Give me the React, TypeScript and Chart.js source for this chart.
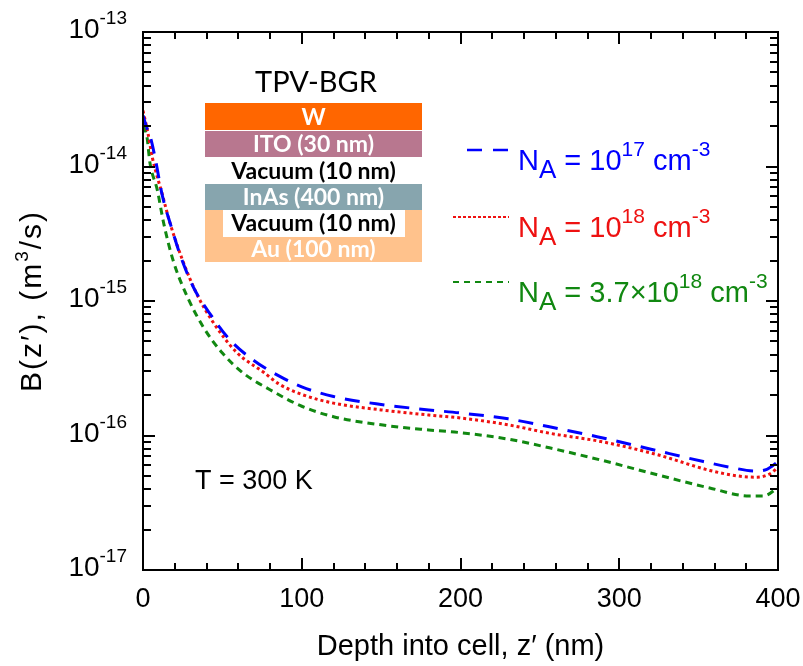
import React, { useEffect, useRef } from "react";
import { Chart, registerables } from "chart.js";

Chart.register(...registerables);

const FONT = '"Liberation Sans", Arial, sans-serif';
const INSET_FONT = 'Lato, "Open Sans", sans-serif';

// ---- data ----
const xTickValues = [0, 100, 200, 300, 400];
const yDecades = [-13, -14, -15, -16, -17];

const depthA17 = [0, 2, 5, 8, 12, 18, 24, 32, 42, 55, 70, 85, 100, 120, 150, 180, 200, 230, 256, 286, 320, 353, 370, 385, 393, 400];
const bA17 = [2.4e-14, 2.0e-14, 1.6e-14, 1.1e-14, 6.2e-15, 3.5e-15, 2.1e-15, 1.25e-15, 8.1e-16, 5.1e-16, 3.6e-16, 2.8e-16, 2.3e-16, 1.95e-16, 1.7e-16, 1.55e-16, 1.47e-16, 1.33e-16, 1.16e-16, 9.8e-17, 7.9e-17, 6.4e-17, 5.8e-17, 5.45e-17, 5.6e-17, 6.4e-17];

const depthA18 = [0, 3, 6, 12, 17, 25, 34, 44, 59, 76, 86, 100, 120, 150, 180, 200, 230, 256, 290, 324, 357, 375, 387, 395, 400];
const bA18 = [2.6e-14, 1.8e-14, 1.15e-14, 6.3e-15, 3.8e-15, 2.0e-15, 1.12e-15, 7.0e-16, 4.15e-16, 2.95e-16, 2.4e-16, 2.02e-16, 1.74e-16, 1.55e-16, 1.42e-16, 1.35e-16, 1.2e-16, 1.04e-16, 8.95e-17, 7.2e-17, 5.5e-17, 5.0e-17, 4.9e-17, 5.2e-17, 5.8e-17];

const depthA37 = [0, 2.5, 4.4, 9, 13, 19, 28, 38, 50, 63, 80, 100, 120, 150, 180, 200, 230, 256, 290, 324, 357, 382, 391, 400];
const bA37 = [2.0e-14, 1.66e-14, 1.06e-14, 6.7e-15, 3.8e-15, 2.0e-15, 1.07e-15, 6.4e-16, 4.1e-16, 2.92e-16, 2.19e-16, 1.65e-16, 1.38e-16, 1.2e-16, 1.1e-16, 1.05e-16, 9.4e-17, 8.1e-17, 6.5e-17, 5.1e-17, 4.07e-17, 3.55e-17, 3.55e-17, 4.1e-17];

const legendMantissa = ["10", "10", "3.7×10"];
const legendExponent = ["17", "18", "18"];
const seriesColors = ["#0000ff", "#ee1111", "#118811"];

const layerNames = ["W", "ITO (30 nm)", "Vacuum (10 nm)", "InAs (400 nm)", "Vacuum (10 nm)", "Au (100 nm)"];

type Part = { t: string; size: number; dy: number; weight?: string };

function partsWidth(ctx: CanvasRenderingContext2D, parts: Part[], family: string) {
  let w = 0;
  for (const p of parts) {
    ctx.font = `${p.weight || "normal"} ${p.size}px ${family}`;
    w += ctx.measureText(p.t).width;
  }
  return w;
}

function drawParts(ctx: CanvasRenderingContext2D, parts: Part[], x: number, y: number, color: string, family: string) {
  let cx = x;
  ctx.fillStyle = color;
  ctx.textAlign = "left";
  ctx.textBaseline = "alphabetic";
  for (const p of parts) {
    ctx.font = `${p.weight || "normal"} ${p.size}px ${family}`;
    ctx.fillText(p.t, cx, y + p.dy);
    cx += ctx.measureText(p.t).width;
  }
  return cx;
}

const decorPlugin = {
  id: "decor",
  afterDraw(chart: any) {
    const ctx: CanvasRenderingContext2D = chart.ctx;
    const xs = chart.scales.x;
    const ys = chart.scales.y;
    const left = xs.getPixelForValue(0);
    const right = xs.getPixelForValue(400);
    const top = ys.getPixelForValue(1e-13);
    const bottom = ys.getPixelForValue(1e-17);
    ctx.save();
    // frame
    ctx.strokeStyle = "#000";
    ctx.lineWidth = 2;
    ctx.setLineDash([]);
    ctx.strokeRect(left, top, right - left, bottom - top);
    // x ticks
    for (let z = 0; z <= 400; z += 20) {
      const px = Math.round(xs.getPixelForValue(z));
      const len = z % 100 === 0 ? 12 : 7;
      ctx.beginPath();
      ctx.moveTo(px, bottom);
      ctx.lineTo(px, bottom - len);
      ctx.moveTo(px, top);
      ctx.lineTo(px, top + len);
      ctx.stroke();
    }
    // y ticks
    for (let k = -17; k <= -14; k++) {
      for (let m = 1; m <= 9; m++) {
        const v = m * Math.pow(10, k);
        const py = Math.round(ys.getPixelForValue(v));
        const len = m === 1 ? 12 : 8;
        ctx.beginPath();
        ctx.moveTo(left, py);
        ctx.lineTo(left + len, py);
        ctx.moveTo(right, py);
        ctx.lineTo(right - len, py);
        ctx.stroke();
      }
    }
    // x tick labels
    ctx.fillStyle = "#000";
    ctx.font = `27px ${FONT}`;
    ctx.textAlign = "center";
    ctx.textBaseline = "alphabetic";
    for (const v of xTickValues) {
      ctx.fillText(String(v), xs.getPixelForValue(v), bottom + 37);
    }
    // y tick labels
    for (const d of yDecades) {
      const py = ys.getPixelForValue(Math.pow(10, d));
      const parts: Part[] = [
        { t: "10", size: 28, dy: 0 },
        { t: String(d), size: 19, dy: -14 },
      ];
      const w = partsWidth(ctx, parts, FONT);
      drawParts(ctx, parts, left - 16 - w, py + 6, "#000", FONT);
    }
    // x title
    ctx.fillStyle = "#000";
    ctx.font = `29px ${FONT}`;
    ctx.textAlign = "center";
    ctx.fillText("Depth into cell, z\u2032 (nm)", (left + right) / 2, 655);
    // y title
    ctx.save();
    ctx.translate(41, (top + bottom) / 2);
    ctx.rotate(-Math.PI / 2);
    (ctx as any).letterSpacing = "2px";
    const yParts: Part[] = [
      { t: "B(z\u2032), (m", size: 30, dy: 0 },
      { t: "3", size: 19, dy: -13 },
      { t: "/s)", size: 30, dy: 0 },
    ];
    const yw = partsWidth(ctx, yParts, FONT);
    drawParts(ctx, yParts, -yw / 2, 0, "#000", FONT);
    (ctx as any).letterSpacing = "0px";
    ctx.restore();

    // legend
    const lineY = [150, 217, 282];
    const textY = [170, 237, 302];
    const sampleDash = [[15, 11], [3, 2], [6, 5]];
    const sampleX0 = [467, 453, 453];
    const sampleW = [2.5, 2, 2];
    for (let i = 0; i < 3; i++) {
      ctx.strokeStyle = seriesColors[i];
      ctx.lineWidth = sampleW[i];
      ctx.setLineDash(sampleDash[i]);
      ctx.beginPath();
      ctx.moveTo(sampleX0[i], lineY[i]);
      ctx.lineTo(509, lineY[i]);
      ctx.stroke();
      ctx.setLineDash([]);
      const parts: Part[] = [
        { t: "N", size: 29, dy: 0 },
        { t: "A", size: 26, dy: 8 },
        { t: " = " + legendMantissa[i], size: 29, dy: 0 },
        { t: legendExponent[i], size: 21, dy: -14 },
        { t: " cm", size: 29, dy: 0 },
        { t: "-3", size: 21, dy: -14 },
      ];
      drawParts(ctx, parts, 518, textY[i], seriesColors[i], FONT);
    }

    // T label
    ctx.fillStyle = "#000";
    ctx.font = `27px ${FONT}`;
    ctx.textAlign = "left";
    ctx.fillText("T = 300 K", 195, 489);

    // inset
    ctx.font = `29px ${INSET_FONT}`;
    ctx.textAlign = "center";
    ctx.fillText("TPV-BGR", 316, 92);
    const bx = 205, bw = 217;
    ctx.fillStyle = "#FF6600";
    ctx.fillRect(bx, 103, bw, 27);
    ctx.fillStyle = "#B8778F";
    ctx.fillRect(bx, 131, bw, 26);
    ctx.fillStyle = "#87A5AE";
    ctx.fillRect(bx, 184, bw, 26);
    ctx.fillStyle = "#FFC28C";
    ctx.fillRect(bx, 210, bw, 52);
    ctx.fillStyle = "#ffffff";
    ctx.fillRect(223, 210, 182, 27);
    const layerY = [118, 145, 172, 198, 224, 250];
    const layerColor = ["#fff", "#fff", "#000", "#fff", "#000", "#fff"];
    ctx.textBaseline = "middle";
    ctx.font = `bold 23px ${INSET_FONT}`;
    for (let i = 0; i < layerNames.length; i++) {
      ctx.fillStyle = layerColor[i];
      ctx.fillText(layerNames[i], 313.5, layerY[i]);
    }
    ctx.restore();
  },
};

function toPoints(xs: number[], ys: number[]) {
  return xs.map((x, i) => ({ x, y: ys[i] }));
}

export default function App() {
  const ref = useRef<HTMLCanvasElement | null>(null);
  useEffect(() => {
    if (!ref.current) return;
    const chart = new Chart(ref.current, {
      type: "line",
      data: {
        datasets: [
          {
            label: "NA = 1e17",
            data: toPoints(depthA17, bA17),
            borderColor: seriesColors[0],
            borderWidth: 3,
            borderDash: [15, 10],
            pointRadius: 0,
            cubicInterpolationMode: "monotone",
            fill: false,
          },
          {
            label: "NA = 1e18",
            data: toPoints(depthA18, bA18),
            borderColor: seriesColors[1],
            borderWidth: 3,
            borderDash: [3, 3],
            pointRadius: 0,
            cubicInterpolationMode: "monotone",
            fill: false,
          },
          {
            label: "NA = 3.7e18",
            data: toPoints(depthA37, bA37),
            borderColor: seriesColors[2],
            borderWidth: 3,
            borderDash: [7, 5],
            pointRadius: 0,
            cubicInterpolationMode: "monotone",
            fill: false,
          },
        ],
      },
      options: {
        responsive: false,
        animation: false,
        devicePixelRatio: 1,
        layout: { padding: { left: 143, top: 32, right: 25, bottom: 96 } },
        plugins: { legend: { display: false }, tooltip: { enabled: false } },
        scales: {
          x: { type: "linear", min: 0, max: 400, display: false },
          y: { type: "logarithmic", min: 1e-17, max: 1e-13, display: false },
        },
      },
      plugins: [decorPlugin],
    } as any);
    return () => chart.destroy();
  }, []);
  return (
    <div style={{ position: "fixed", left: 0, top: 0, width: 803, height: 666, background: "#fff" }}>
      <canvas ref={ref} width={803} height={666} style={{ display: "block" }} />
    </div>
  );
}
